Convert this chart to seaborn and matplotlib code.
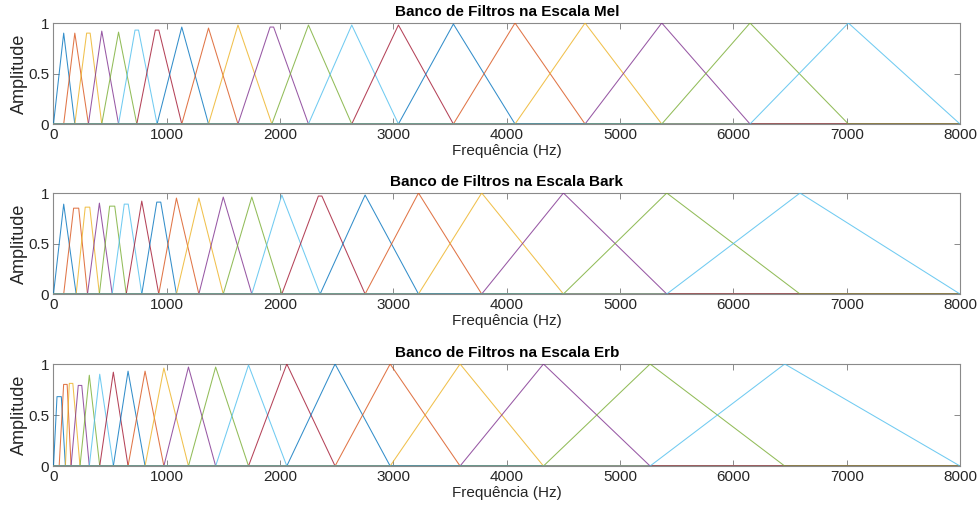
import matplotlib
matplotlib.use("Agg")
import matplotlib.pyplot as plt
import pandas as pd
import seaborn as sns

# Frequency range of the filter banks (Hz)
freq_min, freq_max = 0, 8000

# Centre frequency (Hz), peak amplitude and flat-top width (Hz) of each filter
mel_centers = [90, 188, 308, 426, 574, 735, 914, 1132, 1368, 1628, 1927, 2250,
               2632, 3044, 3529, 4073, 4691, 5368, 6147, 7015]
mel_peaks = [0.90, 0.90, 0.90, 0.92, 0.91, 0.93, 0.93, 0.96, 0.95, 0.98,
             0.96, 0.98, 0.98, 0.98, 0.99, 1.0, 1.0, 1.0, 1.0, 1.0]
mel_flat = [0, 0, 31, 0, 0, 31, 31, 0, 0, 0, 31, 0, 0, 0, 0, 0, 0, 0, 0, 0]

bark_centers = [90, 200, 300, 405, 518, 642, 779, 929, 1085, 1283, 1498, 1750,
                2015, 2353, 2750, 3221, 3779, 4500, 5412, 6588]
bark_peaks = [0.89, 0.85, 0.86, 0.90, 0.87, 0.89, 0.92, 0.91, 0.95, 0.95,
              0.96, 0.96, 0.98, 0.97, 0.98, 1.0, 1.0, 1.0, 1.0, 1.0]
bark_flat = [0, 45, 40, 0, 45, 35, 0, 35, 0, 0, 0, 0, 0, 31, 0, 0, 0, 0, 0, 0]

erb_centers = [50, 105, 155, 234, 316, 408, 528, 658, 808, 974, 1191, 1431,
               1721, 2059, 2485, 2971, 3588, 4324, 5265, 6453]
erb_peaks = [0.68, 0.80, 0.81, 0.79, 0.89, 0.90, 0.92, 0.93, 0.93, 0.96,
             0.97, 0.97, 0.99, 1.0, 1.0, 1.0, 1.0, 1.0, 1.0, 1.0]
erb_flat = [38, 31, 31, 31, 0, 0, 0, 0, 0, 0, 0, 0, 0, 0, 0, 0, 0, 0, 0, 0]

titles = ["Banco de Filtros na Escala Mel",
          "Banco de Filtros na Escala Bark",
          "Banco de Filtros na Escala Erb"]
x_ticks = [0, 1000, 2000, 3000, 4000, 5000, 6000, 7000, 8000]
y_ticks = [0, 0.5, 1]
y_tick_labels = ["0", "0.5", "1"]

# MATLAB default line colour order
line_colors = ["#0072BD", "#D95319", "#EDB120", "#7E2F8E",
               "#77AC30", "#4DBEEE", "#A2142F"]


def filter_table(centers, peaks, flats):
    """Triangular responses, each spanning the whole frequency axis."""
    edges = [freq_min] + list(centers) + [freq_max]
    rows = []
    for i, (c, h, w) in enumerate(zip(centers, peaks, flats)):
        lo, hi = edges[i], edges[i + 2]
        xs = [freq_min, lo, c - w / 2, c + w / 2, hi, freq_max]
        ys = [0, 0, h, h, 0, 0]
        for x, y in zip(xs, ys):
            rows.append({"filtro": i, "freq": x, "amp": y})
    return pd.DataFrame(rows)


banks = [
    filter_table(mel_centers, mel_peaks, mel_flat),
    filter_table(bark_centers, bark_peaks, bark_flat),
    filter_table(erb_centers, erb_peaks, erb_flat),
]

sns.set_style("white")
plt.rcParams["font.family"] = ["Liberation Sans", "DejaVu Sans"]

fig = plt.figure(figsize=(9.78, 5.15), dpi=100)
fig.patch.set_facecolor("white")

axes_boxes = [
    (0.0547, 0.7592, 0.9269, 0.1961),
    (0.0547, 0.4291, 0.9269, 0.1961),
    (0.0547, 0.0951, 0.9269, 0.1981),
]

edge_gray = "#8a8a8a"
text_gray = "#262626"

for box, df, title in zip(axes_boxes, banks, titles):
    ax = fig.add_axes(box)
    n = df["filtro"].nunique()
    palette = [line_colors[i % len(line_colors)] for i in range(n)]
    sns.lineplot(data=df, x="freq", y="amp", hue="filtro", palette=palette,
                 estimator=None, sort=False, legend=False, linewidth=0.75,
                 alpha=0.8, zorder=3, ax=ax)
    ax.set_xlim(freq_min, freq_max)
    ax.set_ylim(0, 1)
    ax.set_xticks(x_ticks)
    ax.set_xticklabels([str(t) for t in x_ticks])
    ax.set_yticks(y_ticks)
    ax.set_yticklabels(y_tick_labels)
    ax.tick_params(direction="in", length=4, width=0.7, colors=edge_gray,
                   labelcolor=text_gray, labelsize=11, top=True, right=True,
                   bottom=True, left=True, pad=3)
    for spine in ax.spines.values():
        spine.set_visible(True)
        spine.set_color(edge_gray)
        spine.set_linewidth(0.8)
    ax.set_xlabel("Frequência (Hz)", fontsize=11, color=text_gray, labelpad=1)
    ax.set_ylabel("Amplitude", fontsize=13, color=text_gray, labelpad=0)
    ax.set_title(title, fontsize=11, fontweight="bold", color="black", pad=5)

fig.savefig("out.png", dpi=100, facecolor="white")
